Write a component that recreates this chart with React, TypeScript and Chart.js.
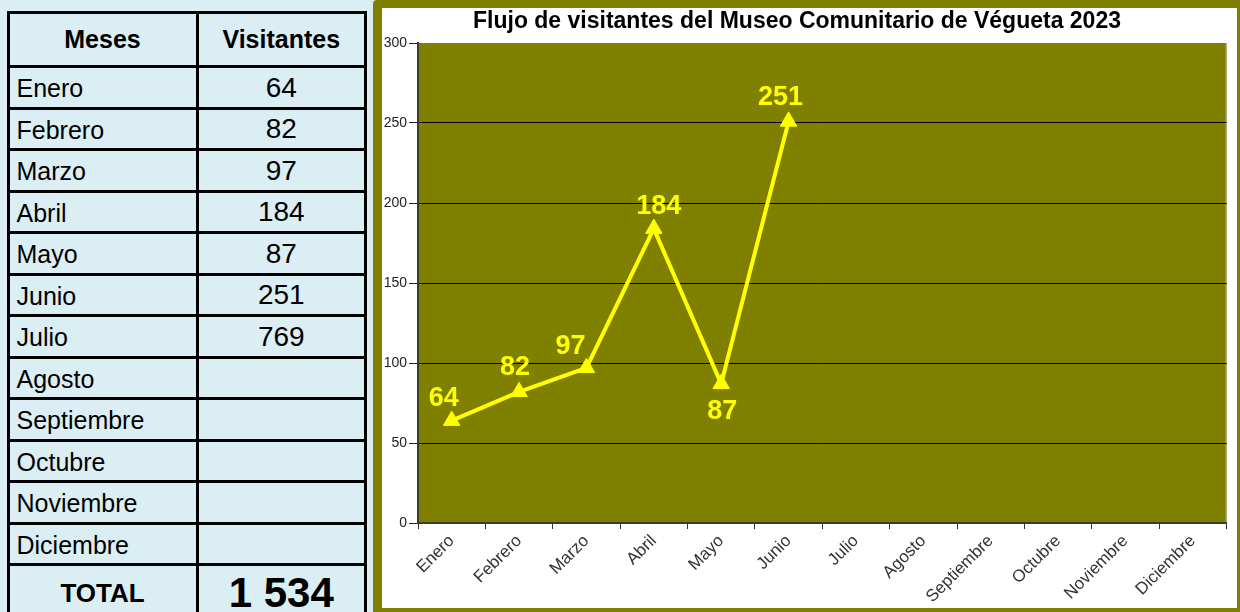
import React, { useEffect, useRef } from "react";
import { Chart, registerables } from "chart.js";

Chart.register(...registerables);

// ---------------- DATA ----------------
const MONTHS = [
  "Enero", "Febrero", "Marzo", "Abril", "Mayo", "Junio",
  "Julio", "Agosto", "Septiembre", "Octubre", "Noviembre", "Diciembre",
];
const TABLE_VISITORS: (number | null)[] = [64, 82, 97, 184, 87, 251, 769, null, null, null, null, null];
const CHART_VISITORS: (number | null)[] = [64, 82, 97, 184, 87, 251, null, null, null, null, null, null];
const Y_TICKS = [0, 50, 100, 150, 200, 250, 300];
const TITLE = "Flujo de visitantes del Museo Comunitario de Végueta 2023";
const HEADERS = ["Meses", "Visitantes"];
const TOTAL_LABEL = "TOTAL";

// ---------------- STYLE ----------------
const FONT = "'Liberation Sans', Arial, Helvetica, sans-serif";
const OLIVE = "#808000";
const YELLOW = "#FFFF00";
const LIGHT_BLUE = "#DBEEF4";

// label offsets relative to each point (styling only)
const LABEL_OFFSETS = [
  { dx: -8, dy: -22 },
  { dx: -4, dy: -24 },
  { dx: -16, dy: -21 },
  { dx: 5, dy: -22 },
  { dx: 1, dy: 28 },
  { dx: -8, dy: -24 },
];

const formatThousands = (n: number) => String(n).replace(/\B(?=(\d{3})+(?!\d))/g, " ");

const plotBackground = {
  id: "plotBackground",
  beforeDraw(chart: any) {
    const { ctx, chartArea } = chart;
    ctx.save();
    ctx.fillStyle = OLIVE;
    ctx.fillRect(chartArea.left, chartArea.top, chartArea.right - chartArea.left, chartArea.bottom - chartArea.top);
    ctx.strokeStyle = "#a0a080";
    ctx.lineWidth = 1;
    ctx.beginPath();
    ctx.moveTo(chartArea.right - 0.5, chartArea.top);
    ctx.lineTo(chartArea.right - 0.5, chartArea.bottom);
    ctx.stroke();
    ctx.restore();
  },
};

const titlePlugin = {
  id: "customTitle",
  afterDraw(chart: any) {
    const { ctx } = chart;
    ctx.save();
    ctx.font = `bold 23px ${FONT}`;
    ctx.fillStyle = "#000";
    ctx.textAlign = "center";
    ctx.textBaseline = "alphabetic";
    ctx.fillText(TITLE, 415, 19.5);
    ctx.restore();
  },
};

const dataLabels = {
  id: "dataLabels",
  afterDatasetsDraw(chart: any) {
    const { ctx } = chart;
    const meta = chart.getDatasetMeta(0);
    ctx.save();
    ctx.font = `bold 27px ${FONT}`;
    ctx.fillStyle = YELLOW;
    ctx.textAlign = "center";
    ctx.textBaseline = "middle";
    meta.data.forEach((pt: any, i: number) => {
      const v = CHART_VISITORS[i];
      if (v === null || v === undefined) return;
      const off = LABEL_OFFSETS[i] || { dx: 0, dy: -22 };
      ctx.fillText(String(v), pt.x + off.dx, pt.y + off.dy);
    });
    ctx.restore();
  },
};

function LineChart() {
  const ref = useRef<HTMLCanvasElement | null>(null);
  useEffect(() => {
    if (!ref.current) return;
    const chart = new Chart(ref.current, {
      type: "line",
      data: {
        labels: MONTHS,
        datasets: [
          {
            label: "Visitantes",
            data: CHART_VISITORS,
            borderColor: YELLOW,
            backgroundColor: YELLOW,
            borderWidth: 4,
            pointStyle: "triangle",
            pointRadius: 9.5,
            pointBorderWidth: 1,
            pointBackgroundColor: YELLOW,
            pointBorderColor: YELLOW,
            tension: 0,
            spanGaps: false,
          },
        ],
      },
      options: {
        animation: false,
        responsive: false,
        maintainAspectRatio: false,
        layout: { padding: { left: 0, top: 35, right: 4, bottom: 0 } },
        plugins: {
          legend: { display: false },
          title: { display: false },
          tooltip: { enabled: false },
        },
        scales: {
          x: {
            type: "category",
            offset: true,
            grid: {
              offset: true,
              drawOnChartArea: false,
              drawTicks: true,
              tickLength: 6,
              color: "#333",
              lineWidth: 1,
            },
            border: { display: true, color: "#3b3b2e", width: 2 },
            ticks: {
              autoSkip: false,
              maxRotation: 45,
              minRotation: 45,
              padding: 2,
              color: "#333",
              font: { family: FONT, size: 17 },
            },
            afterFit: (s: any) => {
              s.height = 85;
            },
          },
          y: {
            min: 0,
            max: 300,
            afterBuildTicks: (s: any) => {
              s.ticks = Y_TICKS.map((v) => ({ value: v }));
            },
            grid: {
              color: (c: any) => (c.tick && c.tick.value === 300 ? "rgba(0,0,0,0)" : "#000"),
              tickColor: "#222",
              tickLength: 9,
              lineWidth: 1,
            },
            border: { display: true, color: "#3b3b2e", width: 2 },
            ticks: {
              padding: 2,
              color: "#222",
              font: { family: FONT, size: 14 },
            },
            afterFit: (s: any) => {
              s.width = 36;
            },
          },
        },
      },
      plugins: [plotBackground, dataLabels, titlePlugin],
    } as any);
    return () => chart.destroy();
  }, []);
  return <canvas ref={ref} width={855} height={600} style={{ width: 855, height: 600, display: "block" }} />;
}

// ---------------- TABLE (layout) ----------------
const LINE_W = 3;
const COL_X = [8, 197, 365.5];
const HEADER_TOP = 12.5;
const HEADER_BOTTOM = 66.7;
const ROW_H = 41.5;
const TOTAL_BOTTOM = 622;

function DataTable() {
  const rowLines = [HEADER_TOP, HEADER_BOTTOM, ...MONTHS.map((_, i) => HEADER_BOTTOM + ROW_H * (i + 1))];
  const totalTop = rowLines[rowLines.length - 1];
  const total = TABLE_VISITORS.reduce((a: number, b) => a + (b || 0), 0);
  const els: React.ReactNode[] = [];

  rowLines.forEach((y, i) => {
    els.push(
      <div key={"h" + i} style={{ position: "absolute", left: COL_X[0] - LINE_W / 2, top: y - LINE_W / 2, width: COL_X[2] - COL_X[0] + LINE_W, height: LINE_W, background: "#000" }} />
    );
  });
  COL_X.forEach((x, i) => {
    els.push(
      <div key={"v" + i} style={{ position: "absolute", left: x - LINE_W / 2, top: HEADER_TOP - LINE_W / 2, width: LINE_W, height: TOTAL_BOTTOM - HEADER_TOP, background: "#000" }} />
    );
  });

  const cell = (key: string, x0: number, x1: number, y0: number, y1: number, text: string, style: React.CSSProperties, align: "left" | "center") => (
    <div
      key={key}
      style={{
        position: "absolute",
        left: x0 + LINE_W / 2,
        top: y0 + LINE_W / 2,
        width: x1 - x0 - LINE_W,
        height: y1 - y0 - LINE_W,
        display: "flex",
        alignItems: "center",
        justifyContent: align === "left" ? "flex-start" : "center",
        paddingLeft: align === "left" ? 7 : 0,
        boxSizing: "border-box",
        fontFamily: FONT,
        color: "#000",
        whiteSpace: "nowrap",
        lineHeight: 1,
        ...style,
      }}
    >
      {text}
    </div>
  );

  els.push(cell("hd0", COL_X[0], COL_X[1], HEADER_TOP, HEADER_BOTTOM, HEADERS[0], { fontWeight: "bold", fontSize: 25 }, "center"));
  els.push(cell("hd1", COL_X[1], COL_X[2], HEADER_TOP, HEADER_BOTTOM, HEADERS[1], { fontWeight: "bold", fontSize: 25 }, "center"));
  MONTHS.forEach((m, i) => {
    const y0 = rowLines[i + 1];
    const y1 = rowLines[i + 2];
    els.push(cell("m" + i, COL_X[0], COL_X[1], y0, y1, m, { fontSize: 25, paddingTop: 3 }, "left"));
    const v = TABLE_VISITORS[i];
    els.push(cell("v" + i, COL_X[1], COL_X[2], y0, y1, v === null ? "" : String(v), { fontSize: 28, paddingTop: 1 }, "center"));
  });
  els.push(cell("t0", COL_X[0], COL_X[1], totalTop, TOTAL_BOTTOM, TOTAL_LABEL, { fontWeight: "bold", fontSize: 26, paddingTop: 0 }, "center"));
  els.push(cell("t1", COL_X[1], COL_X[2], totalTop, TOTAL_BOTTOM, formatThousands(total), { fontWeight: "bold", fontSize: 42 }, "center"));

  return <>{els}</>;
}

export default function App() {
  return (
    <div style={{ position: "absolute", left: 0, top: 0, width: 1240, height: 612, overflow: "hidden", background: LIGHT_BLUE }}>
      <DataTable />
      <div style={{ position: "absolute", left: 373, top: 0, width: 867, height: 612, background: OLIVE, borderTopLeftRadius: 4 }}>
        <div style={{ position: "absolute", left: 9, top: 8, width: 855, height: 600, background: "#fff" }}>
          <LineChart />
        </div>
      </div>
    </div>
  );
}
